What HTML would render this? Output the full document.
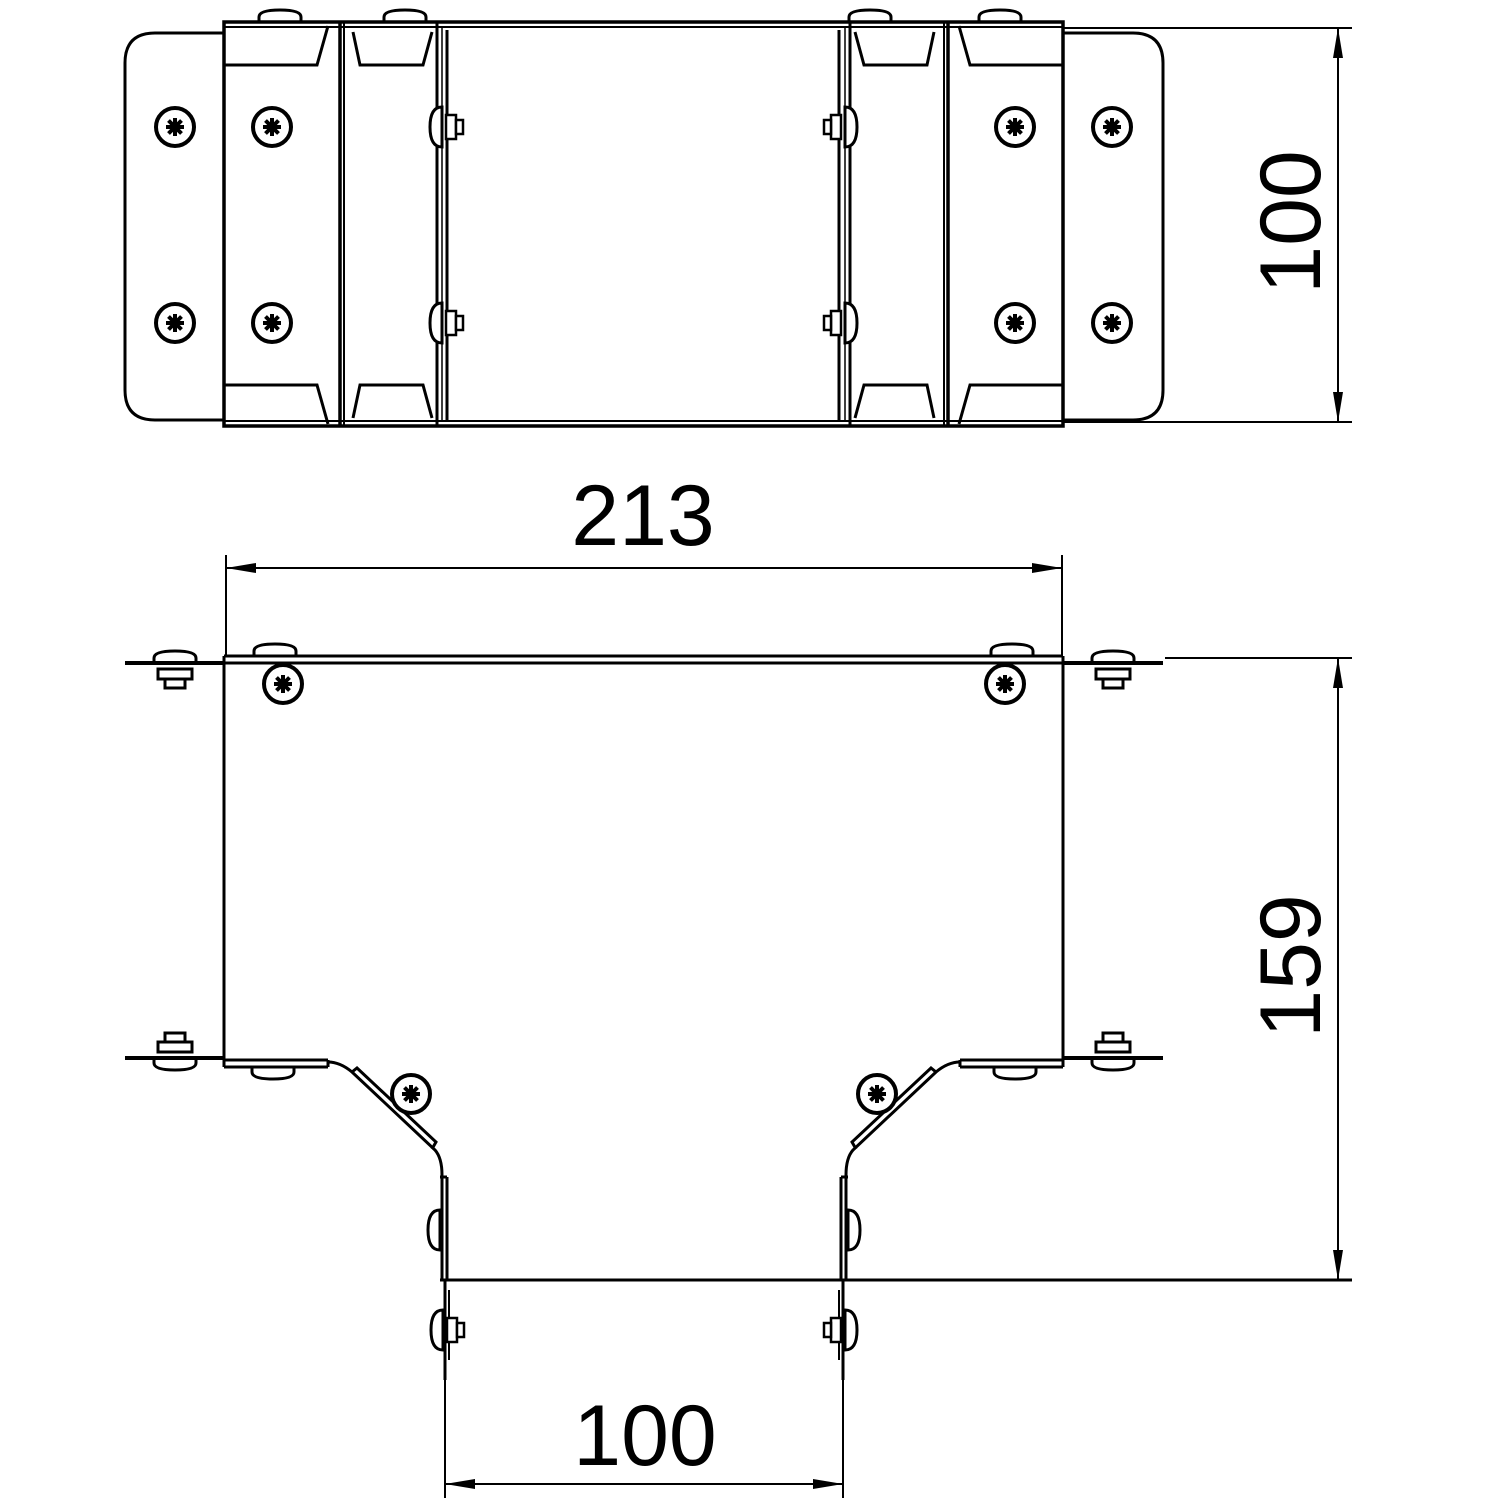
<!DOCTYPE html>
<html><head><meta charset="utf-8"><style>html,body{margin:0;padding:0;background:#fff}svg{display:block}</style></head><body>
<svg width="1500" height="1500" viewBox="0 0 1500 1500" xmlns="http://www.w3.org/2000/svg" fill="none" stroke="#000" stroke-width="3">
<defs>
<g id="ast"><circle r="19" stroke-width="4" fill="#fff"/><g stroke-width="4"><line x1="-9" y1="0" x2="9" y2="0"/><line x1="0" y1="-9" x2="0" y2="9"/><line x1="-6.5" y1="-6.5" x2="6.5" y2="6.5"/><line x1="-6.5" y1="6.5" x2="6.5" y2="-6.5"/></g></g>
<g id="cap"><path d="M-21,0 L-21,-5 Q-21,-12 0,-12 Q21,-12 21,-5 L21,0 Z" fill="#fff" stroke-width="3"/></g>
<g id="side"><path d="M0,-20 Q-12,-20 -12,0 Q-12,20 0,20 Z" fill="#fff" stroke-width="3"/><rect x="4" y="-12" width="10" height="24" fill="#fff" stroke-width="2.5"/><rect x="14" y="-7" width="7" height="14" fill="#fff" stroke-width="2.5"/></g>
<g id="bolt"><path d="M-21,0 L-21,-5 Q-21,-12 0,-12 Q21,-12 21,-5 L21,0 Z" fill="#fff" stroke-width="3"/><rect x="-17" y="6" width="34" height="10" fill="#fff"/><rect x="-10" y="16" width="20" height="9" fill="#fff"/></g>
<marker id="ar" viewBox="0 0 30 10" refX="30" refY="5" markerWidth="30" markerHeight="10" markerUnits="userSpaceOnUse" orient="auto"><path d="M0,0 L30,5 L0,10 Z" fill="#000" stroke="none"/></marker>
</defs>

<!-- TOP VIEW -->
<path d="M224,33 H155 Q125,33 125,63 V390 Q125,420 155,420 H224" />
<path d="M1063,33 H1133 Q1163,33 1163,63 V390 Q1163,420 1133,420 H1063" />
<use href="#cap" x="280" y="22"/><use href="#cap" x="405" y="22"/><use href="#cap" x="870" y="22"/><use href="#cap" x="1000" y="22"/>
<rect x="224" y="22" width="839" height="404" stroke-width="3.5"/>
<line x1="224" y1="27" x2="1063" y2="27" stroke-width="2"/>
<line x1="224" y1="421" x2="1063" y2="421" stroke-width="2"/>
<line x1="340" y1="22" x2="340" y2="426" stroke-width="3.5"/><line x1="344" y1="22" x2="344" y2="426" stroke-width="2"/>
<line x1="437" y1="22" x2="437" y2="426"/><line x1="442" y1="28" x2="442" y2="422" stroke-width="1.5"/><line x1="447" y1="30" x2="447" y2="420" stroke-width="3"/>
<line x1="839" y1="30" x2="839" y2="420" stroke-width="3"/><line x1="845" y1="28" x2="845" y2="422" stroke-width="1.5"/><line x1="850" y1="22" x2="850" y2="426"/>
<line x1="944" y1="22" x2="944" y2="426" stroke-width="2"/><line x1="948" y1="22" x2="948" y2="426" stroke-width="3.5"/>
<!-- trapezoids -->
<path d="M224,65 H317 L328,26"/><path d="M224,385 H317 L328,424"/>
<path d="M353,32 L360,65 H423 L432,32"/><path d="M353,418 L360,385 H423 L432,418"/>
<path d="M1063,65 H970 L959,26"/><path d="M1063,385 H970 L959,424"/>
<path d="M934,32 L927,65 H864 L855,32"/><path d="M934,418 L927,385 H864 L855,418"/>
<use href="#ast" x="175" y="127"/><use href="#ast" x="272" y="127"/><use href="#ast" x="175" y="323"/><use href="#ast" x="272" y="323"/>
<use href="#ast" x="1015" y="127"/><use href="#ast" x="1112" y="127"/><use href="#ast" x="1015" y="323"/><use href="#ast" x="1112" y="323"/>
<use href="#side" x="442" y="127"/><use href="#side" x="442" y="323"/>
<use href="#side" transform="translate(845,127) scale(-1,1)"/><use href="#side" transform="translate(845,323) scale(-1,1)"/>
<!-- dim 100 top -->
<line x1="1063" y1="28" x2="1352" y2="28" stroke-width="2"/><line x1="1063" y1="422" x2="1352" y2="422" stroke-width="2"/>
<line x1="1338" y1="225" x2="1338" y2="28" stroke-width="2" marker-end="url(#ar)"/>
<line x1="1338" y1="225" x2="1338" y2="422" stroke-width="2" marker-end="url(#ar)"/>
<text x="1320" y="222" transform="rotate(-90 1320 222)" text-anchor="middle" font-family="Liberation Sans, sans-serif" font-size="86" fill="#000" stroke="none">100</text>

<!-- BOTTOM VIEW -->
<text x="643" y="545" text-anchor="middle" font-family="Liberation Sans, sans-serif" font-size="86" fill="#000" stroke="none">213</text>
<line x1="226" y1="555" x2="226" y2="655" stroke-width="2"/><line x1="1062" y1="555" x2="1062" y2="655" stroke-width="2"/>
<line x1="644" y1="568" x2="226" y2="568" stroke-width="2" marker-end="url(#ar)"/>
<line x1="644" y1="568" x2="1062" y2="568" stroke-width="2" marker-end="url(#ar)"/>
<use href="#cap" x="275" y="656"/><use href="#cap" x="1012" y="656"/>
<use href="#bolt" x="175" y="663"/><use href="#bolt" x="1113" y="663"/>
<line x1="125" y1="663" x2="224" y2="663" stroke-width="4"/><line x1="1063" y1="663" x2="1163" y2="663" stroke-width="4"/>
<line x1="224" y1="656" x2="1063" y2="656"/><line x1="224" y1="663" x2="1063" y2="663"/>
<use href="#ast" x="283" y="684"/><use href="#ast" x="1005" y="684"/>
<line x1="224" y1="656" x2="224" y2="1067"/><line x1="1063" y1="656" x2="1063" y2="1067"/>
<!-- left bend -->
<path d="M224,1060 H328 M224,1067 H328 M328,1060 V1067"/>
<path d="M328,1062 Q340,1062 352,1072 L435,1150 Q442,1158 442,1175 V1280"/>
<path d="M352,1072 L357,1068 L436,1142 L432,1149"/>
<line x1="447" y1="1177" x2="447" y2="1280"/><line x1="440" y1="1177" x2="447" y2="1177"/>
<use href="#bolt" transform="translate(175,1058) scale(1,-1)"/>
<line x1="125" y1="1058" x2="224" y2="1058" stroke-width="4"/>
<use href="#cap" transform="translate(273,1067) scale(1,-1)"/>
<use href="#ast" x="411" y="1094"/>
<!-- right bend -->
<path d="M1063,1060 H960 M1063,1067 H960 M960,1060 V1067"/>
<path d="M960,1062 Q948,1062 936,1072 L853,1150 Q846,1158 846,1175 V1280"/>
<path d="M936,1072 L931,1068 L852,1142 L856,1149"/>
<line x1="841" y1="1177" x2="841" y2="1280"/><line x1="848" y1="1177" x2="841" y2="1177"/>
<use href="#bolt" transform="translate(1113,1058) scale(1,-1)"/>
<line x1="1063" y1="1058" x2="1163" y2="1058" stroke-width="4"/>
<use href="#cap" transform="translate(1015,1067) scale(1,-1)"/>
<use href="#ast" x="877" y="1094"/>
<!-- side bolts lower -->
<path d="M440,1210 Q428,1210 428,1230 Q428,1250 440,1250 Z" fill="#fff" stroke-width="3"/>
<path d="M848,1210 Q860,1210 860,1230 Q860,1250 848,1250 Z" fill="#fff" stroke-width="3"/>
<line x1="440" y1="1280" x2="1352" y2="1280" stroke-width="3"/>
<line x1="445" y1="1280" x2="445" y2="1380"/><line x1="449" y1="1290" x2="449" y2="1360" stroke-width="2"/>
<line x1="843" y1="1280" x2="843" y2="1380"/><line x1="839" y1="1290" x2="839" y2="1360" stroke-width="2"/>
<use href="#side" x="443" y="1330"/>
<use href="#side" transform="translate(845,1330) scale(-1,1)"/>
<!-- dim 159 -->
<line x1="1165" y1="658" x2="1352" y2="658" stroke-width="2"/>
<line x1="1338" y1="970" x2="1338" y2="658" stroke-width="2" marker-end="url(#ar)"/>
<line x1="1338" y1="970" x2="1338" y2="1280" stroke-width="2" marker-end="url(#ar)"/>
<text x="1320" y="966" transform="rotate(-90 1320 966)" text-anchor="middle" font-family="Liberation Sans, sans-serif" font-size="86" fill="#000" stroke="none">159</text>
<!-- dim 100 bottom -->
<text x="645" y="1465" text-anchor="middle" font-family="Liberation Sans, sans-serif" font-size="86" fill="#000" stroke="none">100</text>
<line x1="445" y1="1380" x2="445" y2="1498" stroke-width="2"/><line x1="843" y1="1380" x2="843" y2="1498" stroke-width="2"/>
<line x1="644" y1="1484" x2="445" y2="1484" stroke-width="2" marker-end="url(#ar)"/>
<line x1="644" y1="1484" x2="843" y2="1484" stroke-width="2" marker-end="url(#ar)"/>
</svg>
</body></html>
